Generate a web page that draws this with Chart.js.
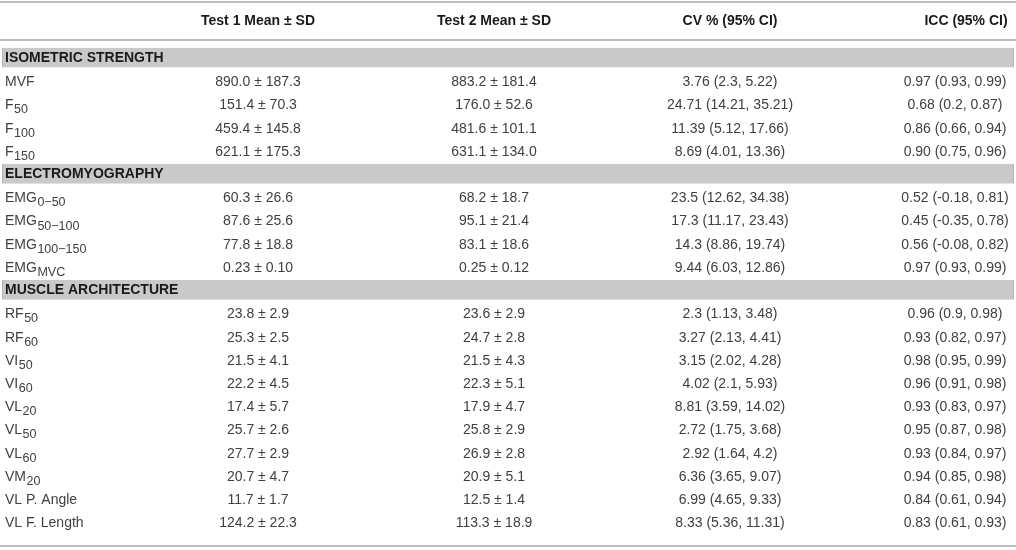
<!DOCTYPE html>
<html>
<head>
<meta charset="utf-8">
<script src="https://cdn.jsdelivr.net/npm/chart.js@4"></script>
<style>
  html, body { margin: 0; padding: 0; background: #fff; }
  #wrap { width: 1016px; height: 550px; position: relative; }
</style>
</head>
<body>
<div id="wrap"><canvas id="tableChart"></canvas></div>
<script>
// row labels: [name, subscript]; section rows have sub === null
const rowNames = [
  ['ISOMETRIC STRENGTH', null],
  ['MVF', ''], ['F', '50'], ['F', '100'], ['F', '150'],
  ['ELECTROMYOGRAPHY', null],
  ['EMG', '0\u221250'], ['EMG', '50\u2212100'], ['EMG', '100\u2212150'], ['EMG', 'MVC'],
  ['MUSCLE ARCHITECTURE', null],
  ['RF', '50'], ['RF', '60'], ['VI', '50'], ['VI', '60'], ['VL', '20'],
  ['VL', '50'], ['VL', '60'], ['VM', '20'], ['VL P. Angle', ''], ['VL F. Length', '']
];

const headers = ['Test 1 Mean \u00b1 SD', 'Test 2 Mean \u00b1 SD', 'CV % (95% CI)', 'ICC (95% CI)'];

const test1Mean = [null, 890.0, 151.4, 459.4, 621.1, null, 60.3, 87.6, 77.8, 0.23, null, 23.8, 25.3, 21.5, 22.2, 17.4, 25.7, 27.7, 20.7, 11.7, 124.2];
const test1SD   = [null, 187.3, 70.3, 145.8, 175.3, null, 26.6, 25.6, 18.8, 0.10, null, 2.9, 2.5, 4.1, 4.5, 5.7, 2.6, 2.9, 4.7, 1.7, 22.3];
const test2Mean = [null, 883.2, 176.0, 481.6, 631.1, null, 68.2, 95.1, 83.1, 0.25, null, 23.6, 24.7, 21.5, 22.3, 17.9, 25.8, 26.9, 20.9, 12.5, 113.3];
const test2SD   = [null, 181.4, 52.6, 101.1, 134.0, null, 18.7, 21.4, 18.6, 0.12, null, 2.9, 2.8, 4.3, 5.1, 4.7, 2.9, 2.8, 5.1, 1.4, 18.9];
const meanDecimals = [0, 1, 1, 1, 1, 0, 1, 1, 1, 2, 0, 1, 1, 1, 1, 1, 1, 1, 1, 1, 1];

const cv      = [null, 3.76, 24.71, 11.39, 8.69, null, 23.5, 17.3, 14.3, 9.44, null, 2.3, 3.27, 3.15, 4.02, 8.81, 2.72, 2.92, 6.36, 6.99, 8.33];
const cvLow   = [null, 2.3, 14.21, 5.12, 4.01, null, 12.62, 11.17, 8.86, 6.03, null, 1.13, 2.13, 2.02, 2.1, 3.59, 1.75, 1.64, 3.65, 4.65, 5.36];
const cvHigh  = [null, 5.22, 35.21, 17.66, 13.36, null, 34.38, 23.43, 19.74, 12.86, null, 3.48, 4.41, 4.28, 5.93, 14.02, 3.68, 4.2, 9.07, 9.33, 11.31];

const icc     = [null, 0.97, 0.68, 0.86, 0.90, null, 0.52, 0.45, 0.56, 0.97, null, 0.96, 0.93, 0.98, 0.96, 0.93, 0.95, 0.93, 0.94, 0.84, 0.83];
const iccLow  = [null, 0.93, 0.2, 0.66, 0.75, null, -0.18, -0.35, -0.08, 0.93, null, 0.9, 0.82, 0.95, 0.91, 0.83, 0.87, 0.84, 0.85, 0.61, 0.61];
const iccHigh = [null, 0.99, 0.87, 0.94, 0.96, null, 0.81, 0.78, 0.82, 0.99, null, 0.98, 0.97, 0.99, 0.98, 0.97, 0.98, 0.97, 0.98, 0.94, 0.93];

// layout (x in axis units = pixels)
const colX = [258, 494, 730, 955];
const headerX = [258, 494, 730, 966];
const bandSpan = [2, 1014];
const FONT = '"Liberation Sans", Arial, sans-serif';

function cellTexts(i) {
  const d = meanDecimals[i];
  return [
    test1Mean[i].toFixed(d) + ' \u00b1 ' + test1SD[i].toFixed(d),
    test2Mean[i].toFixed(d) + ' \u00b1 ' + test2SD[i].toFixed(d),
    String(cv[i]) + ' (' + String(cvLow[i]) + ', ' + String(cvHigh[i]) + ')',
    icc[i].toFixed(2) + ' (' + String(iccLow[i]) + ', ' + String(iccHigh[i]) + ')'
  ];
}

const tableText = {
  id: 'tableText',
  afterDatasetsDraw(chart) {
    const ctx = chart.ctx;
    const xs = chart.scales.x, ys = chart.scales.y;
    const area = chart.chartArea;
    ctx.save();

    // rules
    ctx.strokeStyle = '#a8a8a8';
    ctx.lineWidth = 1.5;
    [area.top - 44, area.top - 6, area.bottom + 12.5].forEach(function (y) {
      ctx.beginPath();
      ctx.moveTo(xs.getPixelForValue(0), y);
      ctx.lineTo(xs.getPixelForValue(1016), y);
      ctx.stroke();
    });

    // header
    ctx.textBaseline = 'middle';
    ctx.textAlign = 'center';
    ctx.fillStyle = '#1a1a1a';
    ctx.font = 'bold 14px ' + FONT;
    headers.forEach(function (h, k) {
      ctx.fillText(h, xs.getPixelForValue(headerX[k]), area.top - 24.5);
    });

    rowNames.forEach(function (r, i) {
      const y = ys.getPixelForValue(i);
      const x0 = xs.getPixelForValue(5);
      ctx.textAlign = 'left';
      if (r[1] === null) {
        ctx.fillStyle = '#1a1a1a';
        ctx.font = 'bold 14px ' + FONT;
        ctx.fillText(r[0], x0, y + 0.5);
        return;
      }
      const ty = y + 1.5;
      ctx.fillStyle = '#404040';
      ctx.font = '14px ' + FONT;
      ctx.fillText(r[0], x0, ty);
      if (r[1]) {
        const w = ctx.measureText(r[0]).width;
        ctx.font = '12.5px ' + FONT;
        ctx.fillText(r[1], x0 + w + 0.5, ty + 4.5);
      }
      ctx.font = '14px ' + FONT;
      ctx.textAlign = 'center';
      cellTexts(i).forEach(function (t, k) {
        ctx.fillText(t, xs.getPixelForValue(colX[k]), ty);
      });
    });
    ctx.restore();
  }
};

new Chart(document.getElementById('tableChart'), {
  type: 'bar',
  data: {
    labels: rowNames.map(function (r) { return r[0] + (r[1] || ''); }),
    datasets: [{
      label: 'sections',
      data: rowNames.map(function (r) { return r[1] === null ? bandSpan : null; }),
      backgroundColor: '#c9c9c9',
      borderColor: '#b4b4b4',
      borderWidth: { left: 1, right: 1, top: 0, bottom: 0 },
      borderSkipped: false,
      barPercentage: 0.86,
      categoryPercentage: 1
    }]
  },
  options: {
    indexAxis: 'y',
    responsive: true,
    maintainAspectRatio: false,
    animation: false,
    layout: { padding: { top: 46, bottom: 16.5, left: 0, right: 0 } },
    scales: {
      x: { type: 'linear', min: 0, max: 1016, display: false },
      y: { type: 'category', display: false, offset: true }
    },
    plugins: { legend: { display: false }, tooltip: { enabled: false } }
  },
  plugins: [tableText]
});
</script>
</body>
</html>
